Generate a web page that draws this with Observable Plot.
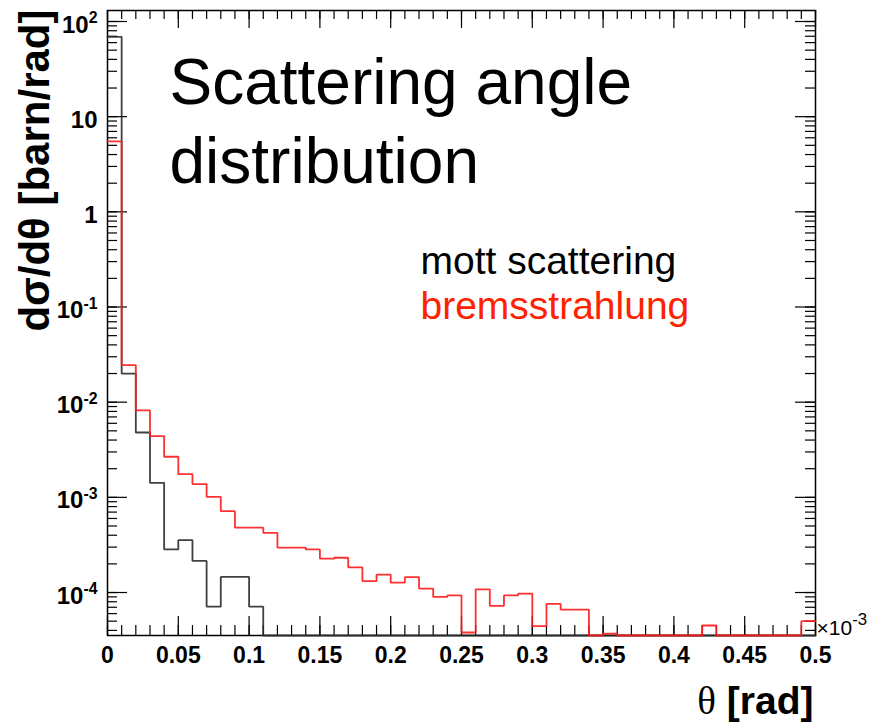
<!DOCTYPE html>
<html>
<head>
<meta charset="utf-8">
<script src="https://cdn.jsdelivr.net/npm/d3@7"></script>
<script src="https://cdn.jsdelivr.net/npm/@observablehq/plot@0.6"></script>
<style>
  html, body { margin: 0; padding: 0; background: #fff; }
</style>
</head>
<body>
<div id="chart"></div>
<script>
// Histogram binning of the scattering angle θ (units of 10^-3 rad)
const thetaMin = 0;
const thetaMax = 0.5;
const binWidth = 0.01;

// dσ/dθ per bin [barn/rad], 50 bins from 0 to 0.5
const mottValues = [
  69, 0.02, 0.0048, 0.00142, 0.000284, 0.000355, 0.000215, 0.000071, 0.000146, 0.000146,
  0.000071, 0, 0, 0, 0, 0, 0, 0, 0, 0,
  0, 0, 0, 0, 0, 0, 0, 0, 0, 0,
  0, 0, 0, 0, 0, 0, 0, 0, 0, 0,
  0, 0, 0, 0, 0, 0, 0, 0, 0, 0
];
const bremsValues = [
  5.5, 0.0245, 0.0082, 0.0044, 0.00267, 0.00175, 0.00138, 0.00101, 0.000716, 0.00048,
  0.00048, 0.000424, 0.000297, 0.000297, 0.000284, 0.000227, 0.000232, 0.000184, 0.000132, 0.000154,
  0.000127, 0.000145, 0.00011, 0.0000898, 0.0000933, 0.000038, 0.000108, 0.0000724, 0.0000933, 0.0000975,
  0.0000443, 0.000076, 0.000066, 0.000066, 0, 0.000037, 0, 0, 0, 0,
  0, 0, 0.000045, 0, 0, 0, 0, 0, 0, 0.00005
];

// Axis range and labels
const yDomain = [3.535e-5, 130.5];
const yTickValues = [1e-4, 1e-3, 1e-2, 1e-1, 1, 10, 100];
const yTickLabels = ["10^{-4}", "10^{-3}", "10^{-2}", "10^{-1}", "1", "10", "10^{2}"];
const xTickValues = [0, 0.05, 0.1, 0.15, 0.2, 0.25, 0.3, 0.35, 0.4, 0.45, 0.5];
const xTickLabels = ["0", "0.05", "0.1", "0.15", "0.2", "0.25", "0.3", "0.35", "0.4", "0.45", "0.5"];
const xMultiplier = "×10^{-3}";
const xTitle = "θ [rad]";
const yTitle = "dσ/dθ [barn/rad]";

// Annotations
const titleLines = ["Scattering angle", "distribution"];
const seriesNames = ["mott scattering", "bremsstrahlung"];
const lineColors = ["#2b2b2b", "#ff1a1a"];
const textColors = ["#000000", "#ff2200"];

// Step outline: one point per bin low edge plus the closing upper edge
function stepRows(values, series) {
  const rows = values.map((v, i) => ({series, x: thetaMin + i * binWidth, v}));
  rows.push({series, x: thetaMin + values.length * binWidth, v: values[values.length - 1]});
  return rows;
}
const mottRows = stepRows(mottValues, seriesNames[0]);
const bremsRows = stepRows(bremsValues, seriesNames[1]);
// empty bins rest on the bottom of the frame
const yOf = d => (d.v > 0 ? d.v : yDomain[0]);

const W = 871, H = 722;
const mL = 107, mR = 56, mT = 10, mB = 87;
const fw = W - mL - mR;
const fh = H - mT - mB;

const xMinor = d3.ticks(thetaMin, thetaMax, 50);
const yMinor = d3.scaleLog().domain(yDomain).ticks();

const font = "'Liberation Sans', Arial, Helvetica, sans-serif";

const chart = Plot.plot({
  width: W,
  height: H,
  marginLeft: mL,
  marginRight: mR,
  marginTop: mT,
  marginBottom: mB,
  style: {fontFamily: font, background: "#fff", color: "#000"},
  x: {domain: [thetaMin, thetaMax], axis: null},
  y: {type: "log", domain: yDomain, axis: null},
  marks: [
    // inward ticks on all four sides of the frame
    Plot.tickY(yMinor, {y: d => d, insetRight: fw - 10, strokeWidth: 1.2}),
    Plot.tickY(yTickValues, {y: d => d, insetRight: fw - 20, strokeWidth: 1.2}),
    Plot.tickY(yMinor, {y: d => d, insetLeft: fw - 10, strokeWidth: 1.2}),
    Plot.tickY(yTickValues, {y: d => d, insetLeft: fw - 20, strokeWidth: 1.2}),
    Plot.tickX(xMinor, {x: d => d, insetTop: fh - 10, strokeWidth: 1.2}),
    Plot.tickX(xTickValues, {x: d => d, insetTop: fh - 19, strokeWidth: 1.2}),
    Plot.tickX(xMinor, {x: d => d, insetBottom: fh - 9, strokeWidth: 1.2}),
    Plot.tickX(xTickValues, {x: d => d, insetBottom: fh - 18, strokeWidth: 1.2}),
    Plot.frame({stroke: "#000", strokeWidth: 1.5}),

    // histograms
    Plot.line(mottRows, {x: "x", y: yOf, curve: "step-after", stroke: lineColors[0], strokeWidth: 1.8, strokeLinejoin: "miter", strokeOpacity: 0.9}),
    Plot.line(bremsRows, {x: "x", y: yOf, curve: "step-after", stroke: lineColors[1], strokeWidth: 1.8, strokeLinejoin: "miter", strokeOpacity: 0.9}),

    // tick labels
    Plot.text(xTickValues, {x: d => d, text: (d, i) => xTickLabels[i], frameAnchor: "bottom", lineAnchor: "bottom", dy: 27, fontSize: 23, fontWeight: "bold"}),
    Plot.text(yTickValues, {y: d => d, text: (d, i) => yTickLabels[i], frameAnchor: "left", textAnchor: "end", lineAnchor: "bottom", dx: -10, dy: 11, fontSize: 24, fontWeight: "bold"}),
    Plot.text([xMultiplier], {frameAnchor: "bottom-right", textAnchor: "start", lineAnchor: "bottom", dx: 1, dy: -1, fontSize: 21}),

    // axis titles
    Plot.text([xTitle], {frameAnchor: "bottom-right", textAnchor: "end", lineAnchor: "bottom", dx: -2, dy: 78, fontSize: 39, fontWeight: "bold"}),
    Plot.text([yTitle], {frameAnchor: "top-left", rotate: -90, textAnchor: "end", lineAnchor: "bottom", dx: -59, dy: -1, fontSize: 42, fontWeight: "bold"}),

    // plot title and series labels
    Plot.text([titleLines.join("\n")], {frameAnchor: "top-left", textAnchor: "start", lineAnchor: "bottom", lineHeight: 1.22, dx: 62, dy: 172, fontSize: 64, fill: "#000"}),
    Plot.text([seriesNames[0]], {frameAnchor: "top-left", textAnchor: "start", lineAnchor: "bottom", dx: 313, dy: 263, fontSize: 39, fill: textColors[0]}),
    Plot.text([seriesNames[1]], {frameAnchor: "top-left", textAnchor: "start", lineAnchor: "bottom", dx: 313, dy: 308, fontSize: 39, fill: textColors[1]})
  ]
});

const svg = d3.select(chart);

// "base^{exp}" labels get a raised, smaller exponent
svg.selectAll("text").each(function () {
  const s = this.textContent;
  const m = s.match(/^(.*)\^\{(.*)\}$/);
  if (!m) return;
  const g = this.closest("[font-size]");
  const size = g ? parseFloat(g.getAttribute("font-size")) : 16;
  const small = s.startsWith("×");
  const scale = small ? 0.8 : 0.66;
  const raise = small ? 0.45 : 0.38;
  const el = d3.select(this);
  el.text(null);
  el.append("tspan").text(m[1]);
  el.append("tspan")
    .attr("font-size", size * scale)
    .attr("dy", -size * raise)
    .text(m[2]);
});

// θ in the axis title is set in a serif face, the unit in bold sans
svg.selectAll("text").filter(function () { return this.textContent === xTitle; }).each(function () {
  const el = d3.select(this);
  el.text(null);
  el.append("tspan")
    .attr("font-family", "'Liberation Serif', 'Times New Roman', serif")
    .attr("font-weight", "normal")
    .text(xTitle.slice(0, 1));
  el.append("tspan").text(xTitle.slice(1));
});

document.getElementById("chart").appendChild(chart);
</script>
</body>
</html>
